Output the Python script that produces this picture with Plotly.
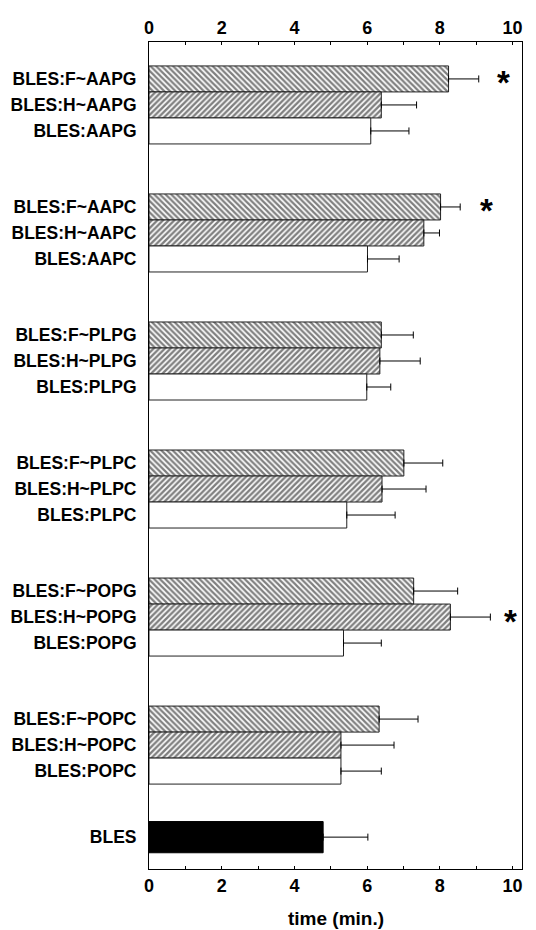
import plotly.graph_objects as go

# ---- data ----
groups = ["AAPG", "AAPC", "PLPG", "PLPC", "POPG", "POPC"]
f_vals = [8.24, 8.02, 6.39, 7.01, 7.28, 6.33]
f_err = [0.83, 0.54, 0.88, 1.07, 1.21, 1.07]
h_vals = [6.39, 7.56, 6.35, 6.41, 8.29, 5.28]
h_err = [0.97, 0.43, 1.11, 1.21, 1.10, 1.46]
p_vals = [6.10, 6.01, 5.99, 5.44, 5.35, 5.28]
p_err = [1.05, 0.87, 0.66, 1.33, 1.04, 1.11]
bles_val = [4.79]
bles_err = [1.23]
star_labels = ["BLES:F~AAPG", "BLES:F~AAPC", "BLES:H~POPG"]
star_x = [9.75, 9.29, 9.94]
x_ticks = [0, 2, 4, 6, 8, 10]
x_title = "time (min.)"

# ---- layout constants ----
PITCH = 4.923
BLES_POS = 5 * PITCH + 2 + 2.54
FONT = "Liberation Sans, Arial, sans-serif"

f_labels = [f"BLES:F~{g}" for g in groups]
h_labels = [f"BLES:H~{g}" for g in groups]
p_labels = [f"BLES:{g}" for g in groups]
f_y = [i * PITCH + 0 for i in range(len(groups))]
h_y = [i * PITCH + 1 for i in range(len(groups))]
p_y = [i * PITCH + 2 for i in range(len(groups))]
pos = dict(zip(f_labels + h_labels + p_labels + ["BLES"], f_y + h_y + p_y + [BLES_POS]))

def err(arr):
    return dict(type="data", array=arr, arrayminus=[0] * len(arr), symmetric=False,
                color="black", thickness=1, width=3.5)

fig = go.Figure()
fig.add_trace(go.Bar(y=f_y, x=f_vals, orientation="h", width=1.0,
                     marker=dict(color="white", line=dict(color="#222", width=1),
                                 pattern=dict(shape="\\", size=4, solidity=0.55,
                                              fgcolor="black", bgcolor="white")),
                     error_x=err(f_err)))
fig.add_trace(go.Bar(y=h_y, x=h_vals, orientation="h", width=1.0,
                     marker=dict(color="white", line=dict(color="#222", width=1),
                                 pattern=dict(shape="/", size=4, solidity=0.6,
                                              fgcolor="black", bgcolor="white")),
                     error_x=err(h_err)))
fig.add_trace(go.Bar(y=p_y, x=p_vals, orientation="h", width=1.0,
                     marker=dict(color="white", line=dict(color="#222", width=1)),
                     error_x=err(p_err)))
fig.add_trace(go.Bar(y=[BLES_POS], x=bles_val, orientation="h", width=1.2,
                     marker=dict(color="black", line=dict(color="black", width=1)),
                     error_x=err(bles_err)))

for lab, sx in zip(star_labels, star_x):
    fig.add_annotation(x=sx, y=pos[lab], text="*", showarrow=False,
                       font=dict(size=33, color="black", family=FONT, weight="bold"),
                       yshift=-4)

fig.add_annotation(x=0.5, xref="paper", y=0, yref="paper", yanchor="middle",
                   yshift=-49, text=x_title, showarrow=False,
                   font=dict(size=19, family=FONT, weight="bold", color="black"))

all_labels = f_labels + h_labels + p_labels + ["BLES"]
all_pos = f_y + h_y + p_y + [BLES_POS]

tickfont = dict(size=18, family=FONT, weight="bold", color="black")

fig.update_layout(
    width=536, height=930,
    margin=dict(l=149, r=14, t=42, b=61),
    plot_bgcolor="white", paper_bgcolor="white",
    showlegend=False, barmode="overlay",
    font=dict(family=FONT, color="black"),
    xaxis=dict(range=[0, 10.26], tickvals=x_ticks, ticks="inside", ticklen=3,
               tickcolor="black", showline=True, linecolor="black", linewidth=1,
               showgrid=False, zeroline=False, tickfont=tickfont, automargin=False,
               minor=dict(dtick=1, tick0=0, ticks="inside", ticklen=3, tickcolor="black")),
    xaxis2=dict(range=[0, 10.26], tickvals=x_ticks, ticks="inside", ticklen=3,
                tickcolor="black", showline=True, linecolor="black", linewidth=1,
                overlaying="x", side="top", matches="x", showgrid=False, zeroline=False,
                tickfont=tickfont, automargin=False,
                minor=dict(dtick=1, tick0=0, ticks="inside", ticklen=3, tickcolor="black")),
    yaxis=dict(range=[30.38, -1.42], tickvals=all_pos, ticktext=all_labels,
               ticks="", showline=True, linecolor="black", linewidth=1, mirror=True,
               showgrid=False, zeroline=False, ticklabelstandoff=8, automargin=False,
               tickfont=dict(size=17.5, family=FONT, weight="bold", color="black")),
)
fig.add_trace(go.Scatter(x=[0], y=[0], xaxis="x2", mode="markers",
                         marker=dict(opacity=0), hoverinfo="skip"))

fig.write_html("out.html")
